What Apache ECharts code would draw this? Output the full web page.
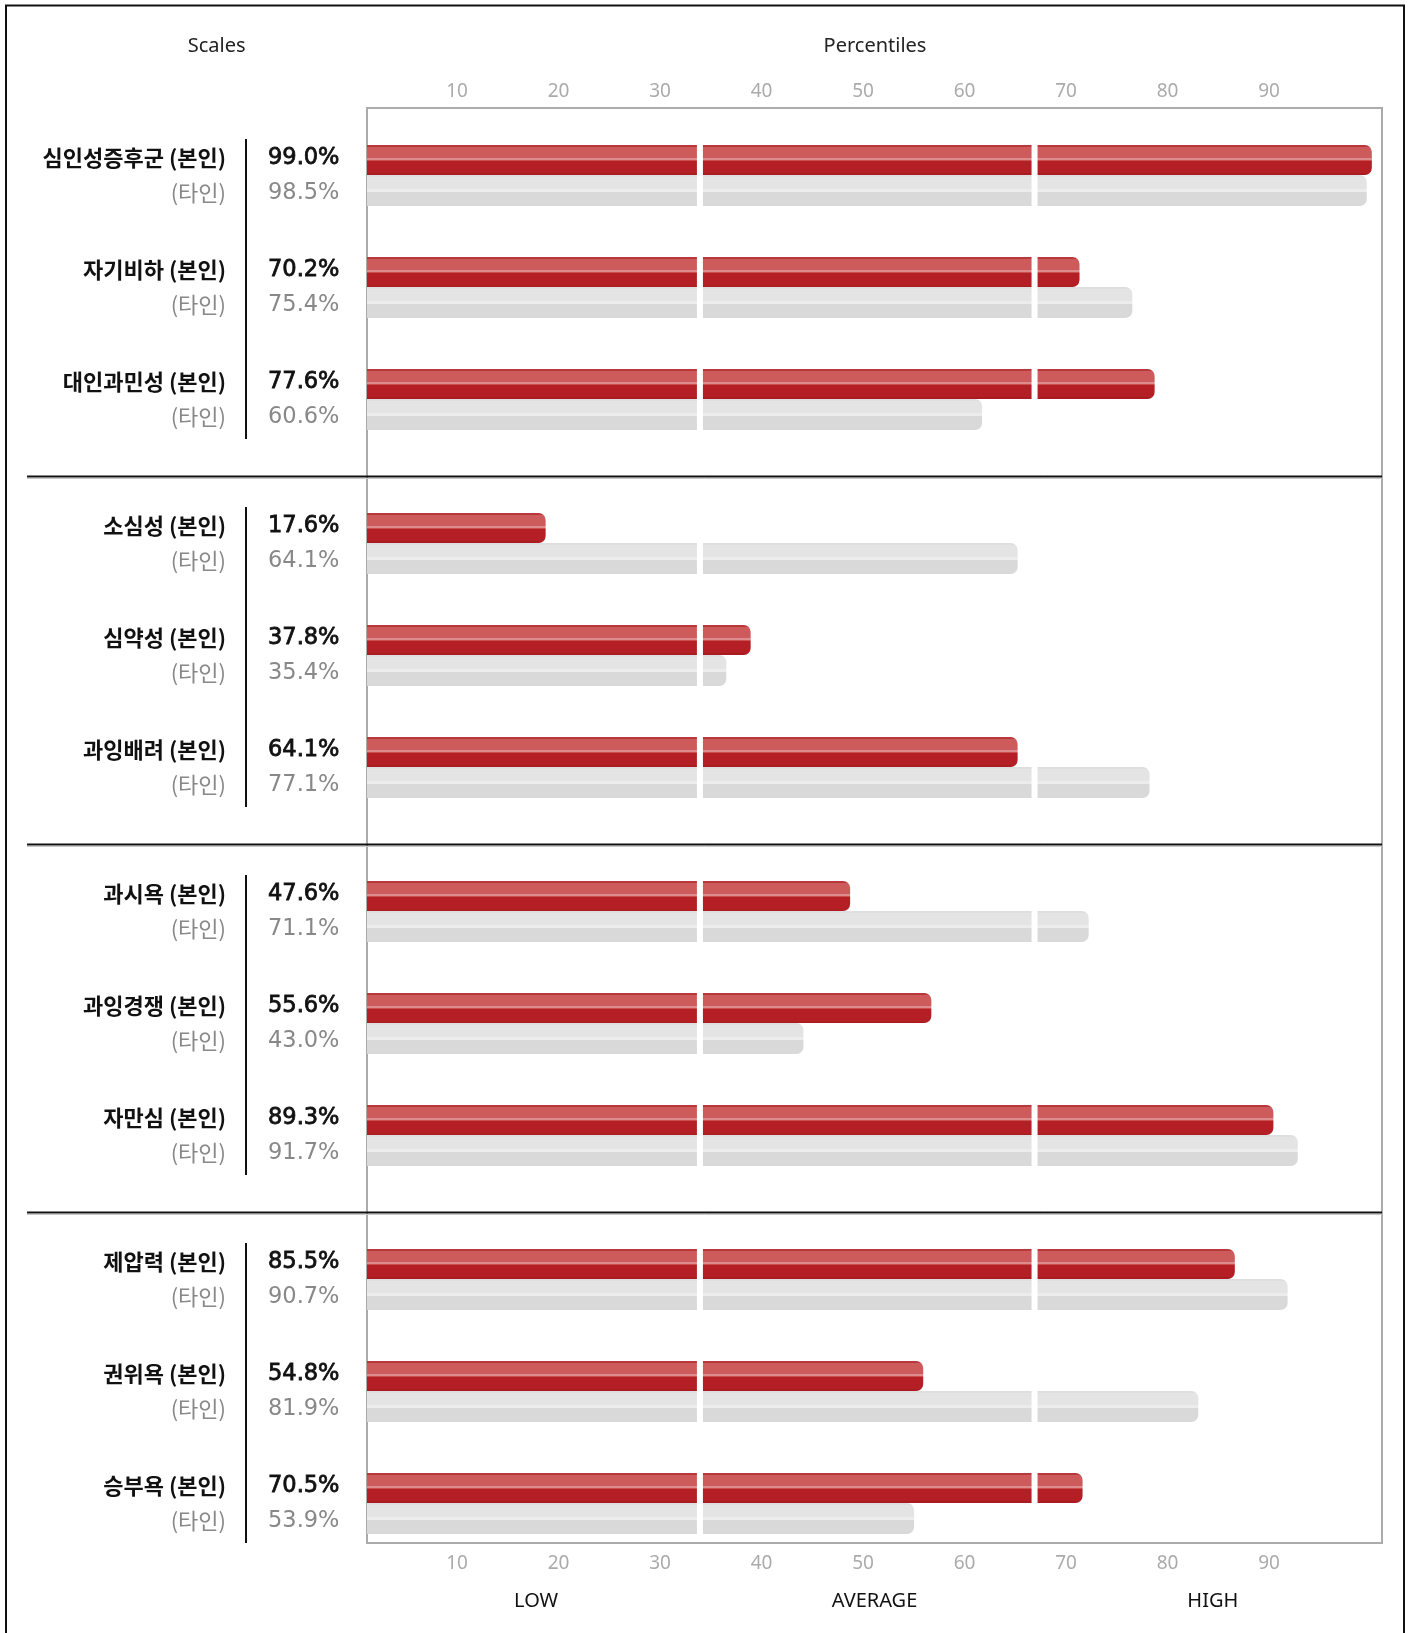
<!DOCTYPE html>
<html><head><meta charset="utf-8">
<script src="https://cdn.jsdelivr.net/npm/echarts@6/dist/echarts.min.js"></script>
<style>html,body{margin:0;padding:0;background:#fff}#c{width:1411px;height:1633px}</style>
</head><body><div id="c"></div>
<script>
// ---------- data ----------
const SCALES = ['심인성증후군','자기비하','대인과민성','소심성','심약성','과잉배려','과시욕','과잉경쟁','자만심','제압력','권위욕','승부욕'];
const SELF_PCT  = [99.0, 70.2, 77.6, 17.6, 37.8, 64.1, 47.6, 55.6, 89.3, 85.5, 54.8, 70.5];
const OTHER_PCT = [98.5, 75.4, 60.6, 64.1, 35.4, 77.1, 71.1, 43.0, 91.7, 90.7, 81.9, 53.9];
const GROUP_SIZE = 3;
const TICK_LABELS = [10, 20, 30, 40, 50, 60, 70, 80, 90];
const BAND_LABELS = ['LOW', 'AVERAGE', 'HIGH'];
const SELF_TAG = '(본인)';
const OTHER_TAG = '(타인)';
const HEAD_LEFT = 'Scales';
const HEAD_RIGHT = 'Percentiles';

// ---------- layout / style ----------
const SECTION_GAP = 32 / 112;          // extra space between groups, in row units
const rowPos = i => i + Math.floor(i / GROUP_SIZE) * SECTION_GAP;
const NGROUPS = Math.ceil(SCALES.length / GROUP_SIZE);
const TERCILE_GAPS = [32.8, 65.77];    // white separators through the bars
const GAP_HALF = 3;

const KFONT = '"Noto Sans CJK KR", "Noto Sans", sans-serif';
const NFONT = '"DejaVu Sans", sans-serif';

const redGrad = new echarts.graphic.LinearGradient(0, 0, 0, 1, [
  {offset: 0, color: '#b8393c'}, {offset: 0.06, color: '#b8393c'},
  {offset: 0.06, color: '#cd5b5c'}, {offset: 0.43, color: '#cd5b5c'},
  {offset: 0.43, color: '#dc8c8c'}, {offset: 0.5, color: '#dc8c8c'},
  {offset: 0.5, color: '#c94f51'}, {offset: 0.54, color: '#c94f51'},
  {offset: 0.54, color: '#b31f25'}, {offset: 0.95, color: '#b31f25'},
  {offset: 0.95, color: '#a81b21'}, {offset: 1, color: '#a81b21'}
]);
const greyGrad = new echarts.graphic.LinearGradient(0, 0, 0, 1, [
  {offset: 0, color: '#dedede'}, {offset: 0.05, color: '#dedede'},
  {offset: 0.05, color: '#e4e4e4'}, {offset: 0.46, color: '#e4e4e4'},
  {offset: 0.46, color: '#ececec'}, {offset: 0.54, color: '#ececec'},
  {offset: 0.54, color: '#d9d9d9'}, {offset: 1, color: '#d9d9d9'}
]);

function txt(text, x, y, align, font, fill, strokeW) {
  const style = {text, x, y, align, textAlign: align, verticalAlign: 'middle', textVerticalAlign: 'middle', font, fill};
  if (strokeW) { style.stroke = fill; style.lineWidth = strokeW; }
  return {type: 'text', style};
}

function makeBarRender(isSelf) {
  return function (params, api) {
    const v = api.value(0), y = api.value(1);
    const base = api.coord([0, y]);
    const h = isSelf ? 30 : 31;
    const top = isSelf ? base[1] - 30 : base[1];
    const edges = [0].concat(TERCILE_GAPS.filter(g => g < v), [v]);
    const children = [];
    for (let k = 0; k < edges.length - 1; k++) {
      const last = k === edges.length - 2;
      const x0 = api.coord([edges[k], y])[0] + (k > 0 ? GAP_HALF : 0);
      const x1 = api.coord([edges[k + 1], y])[0] - (last ? 0 : GAP_HALF);
      if (x1 - x0 < 0.5) continue;
      children.push({
        type: 'rect',
        shape: {x: x0, y: top, width: x1 - x0, height: h, r: last ? [0, 7, 7, 0] : 0},
        style: {fill: isSelf ? redGrad : greyGrad}
      });
    }
    const i = params.dataIndex;
    const ty = isSelf ? base[1] - 17 : base[1] + 18;
    if (isSelf) {
      children.push(txt(SCALES[i] + ' ' + SELF_TAG, 226, ty, 'right', 'bold 22px ' + KFONT, '#111'));
      children.push(txt(v.toFixed(1) + '%', 268, ty, 'left', '22.5px ' + NFONT, '#111', 0.8));
    } else {
      children.push(txt(OTHER_TAG, 226, ty, 'right', '22px ' + KFONT, '#888888'));
      children.push(txt(v.toFixed(1) + '%', 268, ty, 'left', '22.5px ' + NFONT, '#888888'));
    }
    return {type: 'group', children};
  };
}

function sectionRender(params, api) {
  const yFirst = api.coord([0, api.value(0)])[1];
  const yLast = api.coord([0, api.value(1)])[1];
  const isLast = api.value(2) === 1;
  const right = api.coord([100, api.value(1)])[0];
  const children = [{
    type: 'line', shape: {x1: 246, y1: yFirst - 36, x2: 246, y2: yLast + 40},
    style: {stroke: '#111', lineWidth: 2}
  }];
  if (!isLast) {
    const sy = yLast + 77.5;
    children.push({type: 'line', shape: {x1: 27, y1: sy + 2, x2: right, y2: sy + 2}, style: {stroke: '#c8c8c8', lineWidth: 1}});
    children.push({type: 'line', shape: {x1: 27, y1: sy, x2: right, y2: sy}, style: {stroke: '#111', lineWidth: 2}});
  }
  return {type: 'group', children};
}

const sectionData = [];
for (let g = 0; g < NGROUPS; g++) {
  const a = g * GROUP_SIZE, b = Math.min(SCALES.length, a + GROUP_SIZE) - 1;
  sectionData.push([rowPos(a), rowPos(b), g === NGROUPS - 1 ? 1 : 0]);
}

const tickAxis = (pos, margin) => ({
  type: 'value', position: pos, min: 0, max: 100, interval: 10, gridIndex: 0,
  axisLine: {show: false}, axisTick: {show: false}, splitLine: {show: false},
  axisLabel: {
    margin, color: '#ababab', fontSize: 19, fontFamily: 'Noto Sans', padding: [0, 23, 0, 0],
    formatter: v => TICK_LABELS.includes(v) ? String(v) : ''
  }
});

const chart = echarts.init(document.getElementById('c'), null, {renderer: 'canvas'});
chart.setOption({
  animation: false,
  backgroundColor: '#ffffff',
  grid: {left: 367, top: 108, width: 1015, height: 1435, show: true, borderColor: '#ababab', borderWidth: 2},
  xAxis: [
    tickAxis('top', 7),
    tickAxis('bottom', 11),
    {
      type: 'category', data: BAND_LABELS, position: 'bottom', offset: 40, gridIndex: 0,
      axisLine: {show: false}, axisTick: {show: false}, splitLine: {show: false},
      axisLabel: {margin: 8, color: '#111', fontSize: 20, fontFamily: 'Noto Sans'}
    }
  ],
  yAxis: {type: 'value', inverse: true, min: -67 / 112, max: rowPos(SCALES.length - 1) + 40 / 112, show: false},
  graphic: [
    {type: 'rect', shape: {x: 6, y: 5.5, width: 1398, height: 1700}, style: {fill: 'none', stroke: '#111', lineWidth: 2}, silent: true},
    {type: 'text', x: 216.7, y: 46.5, style: {text: HEAD_LEFT, align: 'center', textAlign: 'center', verticalAlign: 'middle', textVerticalAlign: 'middle', font: '20px "Noto Sans"', fill: '#222'}},
    {type: 'text', x: 875, y: 46.5, style: {text: HEAD_RIGHT, align: 'center', textAlign: 'center', verticalAlign: 'middle', textVerticalAlign: 'middle', font: '20px "Noto Sans"', fill: '#222'}}
  ],
  series: [
    {type: 'custom', name: 'sections', xAxisIndex: 0, yAxisIndex: 0, renderItem: sectionRender, data: sectionData, silent: true},
    {type: 'custom', name: '타인', xAxisIndex: 0, yAxisIndex: 0, renderItem: makeBarRender(false),
      data: OTHER_PCT.map((v, i) => [v, rowPos(i)])},
    {type: 'custom', name: '본인', xAxisIndex: 0, yAxisIndex: 0, renderItem: makeBarRender(true),
      data: SELF_PCT.map((v, i) => [v, rowPos(i)])}
  ]
});
</script></body></html>
